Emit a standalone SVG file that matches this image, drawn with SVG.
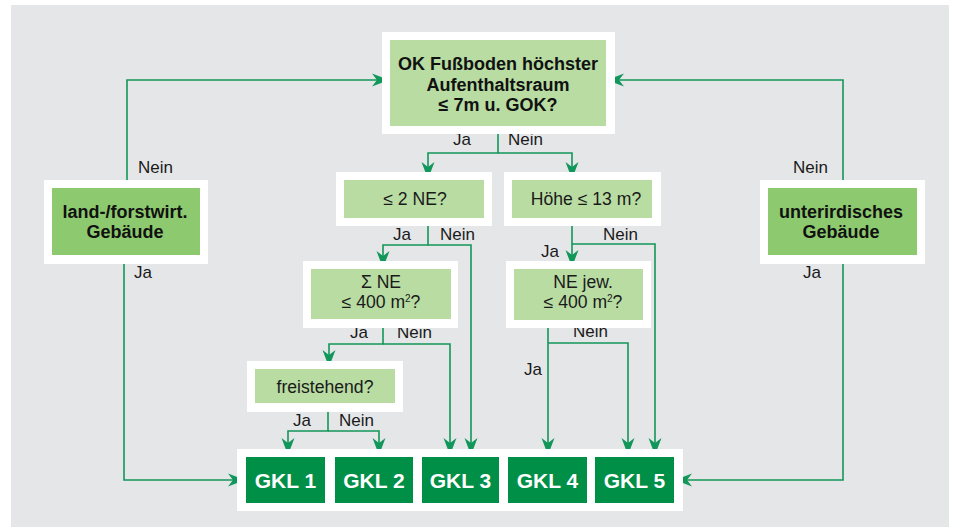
<svg xmlns="http://www.w3.org/2000/svg" width="954" height="528" viewBox="0 0 954 528">
<style>
.bg{fill:#e5e6e8}
.wb{fill:#ffffff}
.lg{fill:#b8dca2}
.mg{fill:#8dc96e}
.dg{fill:#008f47}
.ln{fill:none;stroke:#12975a;stroke-width:1.6}
.t{font-family:"Liberation Sans",Arial,sans-serif;font-size:17px;fill:#1a1a1a}
.r{font-size:17.6px}
.b{font-weight:bold;fill:#111;font-size:18px}
.g{font-family:"Liberation Sans",Arial,sans-serif;font-size:21px;font-weight:bold;fill:#ffffff}
.m{text-anchor:middle}
</style>
<defs>
<marker id="ah" markerUnits="userSpaceOnUse" markerWidth="20" markerHeight="20" refX="0" refY="0" viewBox="-18 -8 20 16" orient="auto" overflow="visible">
<path d="M1,0 L-16,-6.5 L-11,0 L-16,6.5 Z" fill="#12975a"/>
</marker>
</defs>
<rect class="bg" x="11" y="5" width="938" height="522"/>

<g id="connectors">
<path class="ln" d="M498,126 V153 H428 V178" marker-end="url(#ah)"/>
<path class="ln" d="M498,153 H572 V178" marker-end="url(#ah)"/>
<path class="ln" d="M428,218 V245 H383 V267" marker-end="url(#ah)"/>
<path class="ln" d="M428,245 H471 V454" marker-end="url(#ah)"/>
<path class="ln" d="M572,218 V266" marker-end="url(#ah)"/>
<path class="ln" d="M572,244 H655 V454" marker-end="url(#ah)"/>
<path class="ln" d="M383,319 V344 H329 V366" marker-end="url(#ah)"/>
<path class="ln" d="M383,344 H450 V454" marker-end="url(#ah)"/>
<path class="ln" d="M548,320 V454" marker-end="url(#ah)"/>
<path class="ln" d="M548,343 H628 V454" marker-end="url(#ah)"/>
<path class="ln" d="M328,403 V431 H288 V454" marker-end="url(#ah)"/>
<path class="ln" d="M328,431 H379 V454" marker-end="url(#ah)"/>
<path class="ln" d="M127,180 V80 H388" marker-end="url(#ah)"/>
<path class="ln" d="M124,255 V480 H244" marker-end="url(#ah)"/>
<path class="ln" d="M843,180 V80 H608" marker-end="url(#ah)"/>
<path class="ln" d="M843,255 V480 H676" marker-end="url(#ah)"/>
</g>

<g id="labels">
<text class="t m" x="462" y="145">Ja</text>
<text class="t" x="508" y="145">Nein</text>
<text class="t m" x="402" y="240">Ja</text>
<text class="t" x="440" y="240">Nein</text>
<text class="t" x="603" y="240">Nein</text>
<text class="t m" x="550" y="257">Ja</text>
<text class="t m" x="359" y="338">Ja</text>
<text class="t" x="397" y="338">Nein</text>
<text class="t" x="573" y="337">Nein</text>
<text class="t m" x="533" y="375">Ja</text>
<text class="t m" x="302" y="426">Ja</text>
<text class="t" x="339" y="426">Nein</text>
<text class="t" x="138" y="173">Nein</text>
<text class="t m" x="143" y="278">Ja</text>
<text class="t" x="793" y="173">Nein</text>
<text class="t m" x="812" y="278">Ja</text>
</g>

<g id="n-top">
<rect class="wb" x="382" y="32" width="233" height="102"/>
<rect class="lg" x="390" y="40" width="216" height="86"/>
<text class="t b m" x="498" y="70">OK Fußboden höchster</text>
<text class="t b m" x="498" y="91">Aufenthaltsraum</text>
<text class="t b m" x="498" y="111">≤ 7m u. GOK?</text>
</g>

<g id="n-land">
<rect class="wb" x="44" y="180" width="164" height="84"/>
<rect class="mg" x="52" y="188" width="148" height="67"/>
<text class="t b m" x="125" y="218">land-/forstwirt.</text>
<text class="t b m" x="125" y="238">Gebäude</text>
</g>

<g id="n-unter">
<rect class="wb" x="760" y="180" width="165" height="84"/>
<rect class="mg" x="768" y="188" width="149" height="67"/>
<text class="t b m" x="841" y="218">unterirdisches</text>
<text class="t b m" x="841" y="238">Gebäude</text>
</g>

<g id="n-2ne">
<rect class="wb" x="336" y="172" width="156" height="54"/>
<rect class="lg" x="344" y="180" width="140" height="38"/>
<text class="t r m" x="415" y="205">≤ 2 NE?</text>
</g>

<g id="n-hoehe">
<rect class="wb" x="504" y="172" width="157" height="54"/>
<rect class="lg" x="512" y="180" width="140" height="38"/>
<text class="t r m" x="586" y="205">Höhe ≤ 13 m?</text>
</g>

<g id="n-sumne">
<rect class="wb" x="303" y="261" width="155" height="67"/>
<rect class="lg" x="311" y="269" width="140" height="50"/>
<text class="t r m" x="381" y="288">Σ NE</text>
<text class="t r m" x="381" y="308">≤ 400 m<tspan font-size="10" dy="-6">2</tspan><tspan dy="6">?</tspan></text>
</g>

<g id="n-nejew">
<rect class="wb" x="506" y="261" width="145" height="67"/>
<rect class="lg" x="514" y="269" width="129" height="51"/>
<text class="t r m" x="583" y="288">NE jew.</text>
<text class="t r m" x="583" y="308">≤ 400 m<tspan font-size="10" dy="-6">2</tspan><tspan dy="6">?</tspan></text>
</g>

<g id="n-frei">
<rect class="wb" x="247" y="361" width="156" height="51"/>
<rect class="lg" x="255" y="369" width="140" height="34"/>
<text class="t r m" x="325" y="393">freistehend?</text>
</g>

<g id="gkl">
<rect class="wb" x="237" y="449" width="446" height="62"/>
<g id="n-gkl1"><rect class="dg" x="246" y="457" width="79" height="46"/><text class="g m" x="285.5" y="488">GKL 1</text></g>
<g id="n-gkl2"><rect class="dg" x="335" y="457" width="78" height="46"/><text class="g m" x="374" y="488">GKL 2</text></g>
<g id="n-gkl3"><rect class="dg" x="422" y="457" width="77" height="46"/><text class="g m" x="460.5" y="488">GKL 3</text></g>
<g id="n-gkl4"><rect class="dg" x="508" y="457" width="79" height="46"/><text class="g m" x="547.5" y="488">GKL 4</text></g>
<g id="n-gkl5"><rect class="dg" x="595" y="457" width="79" height="46"/><text class="g m" x="634.5" y="488">GKL 5</text></g>
</g>
</svg>
